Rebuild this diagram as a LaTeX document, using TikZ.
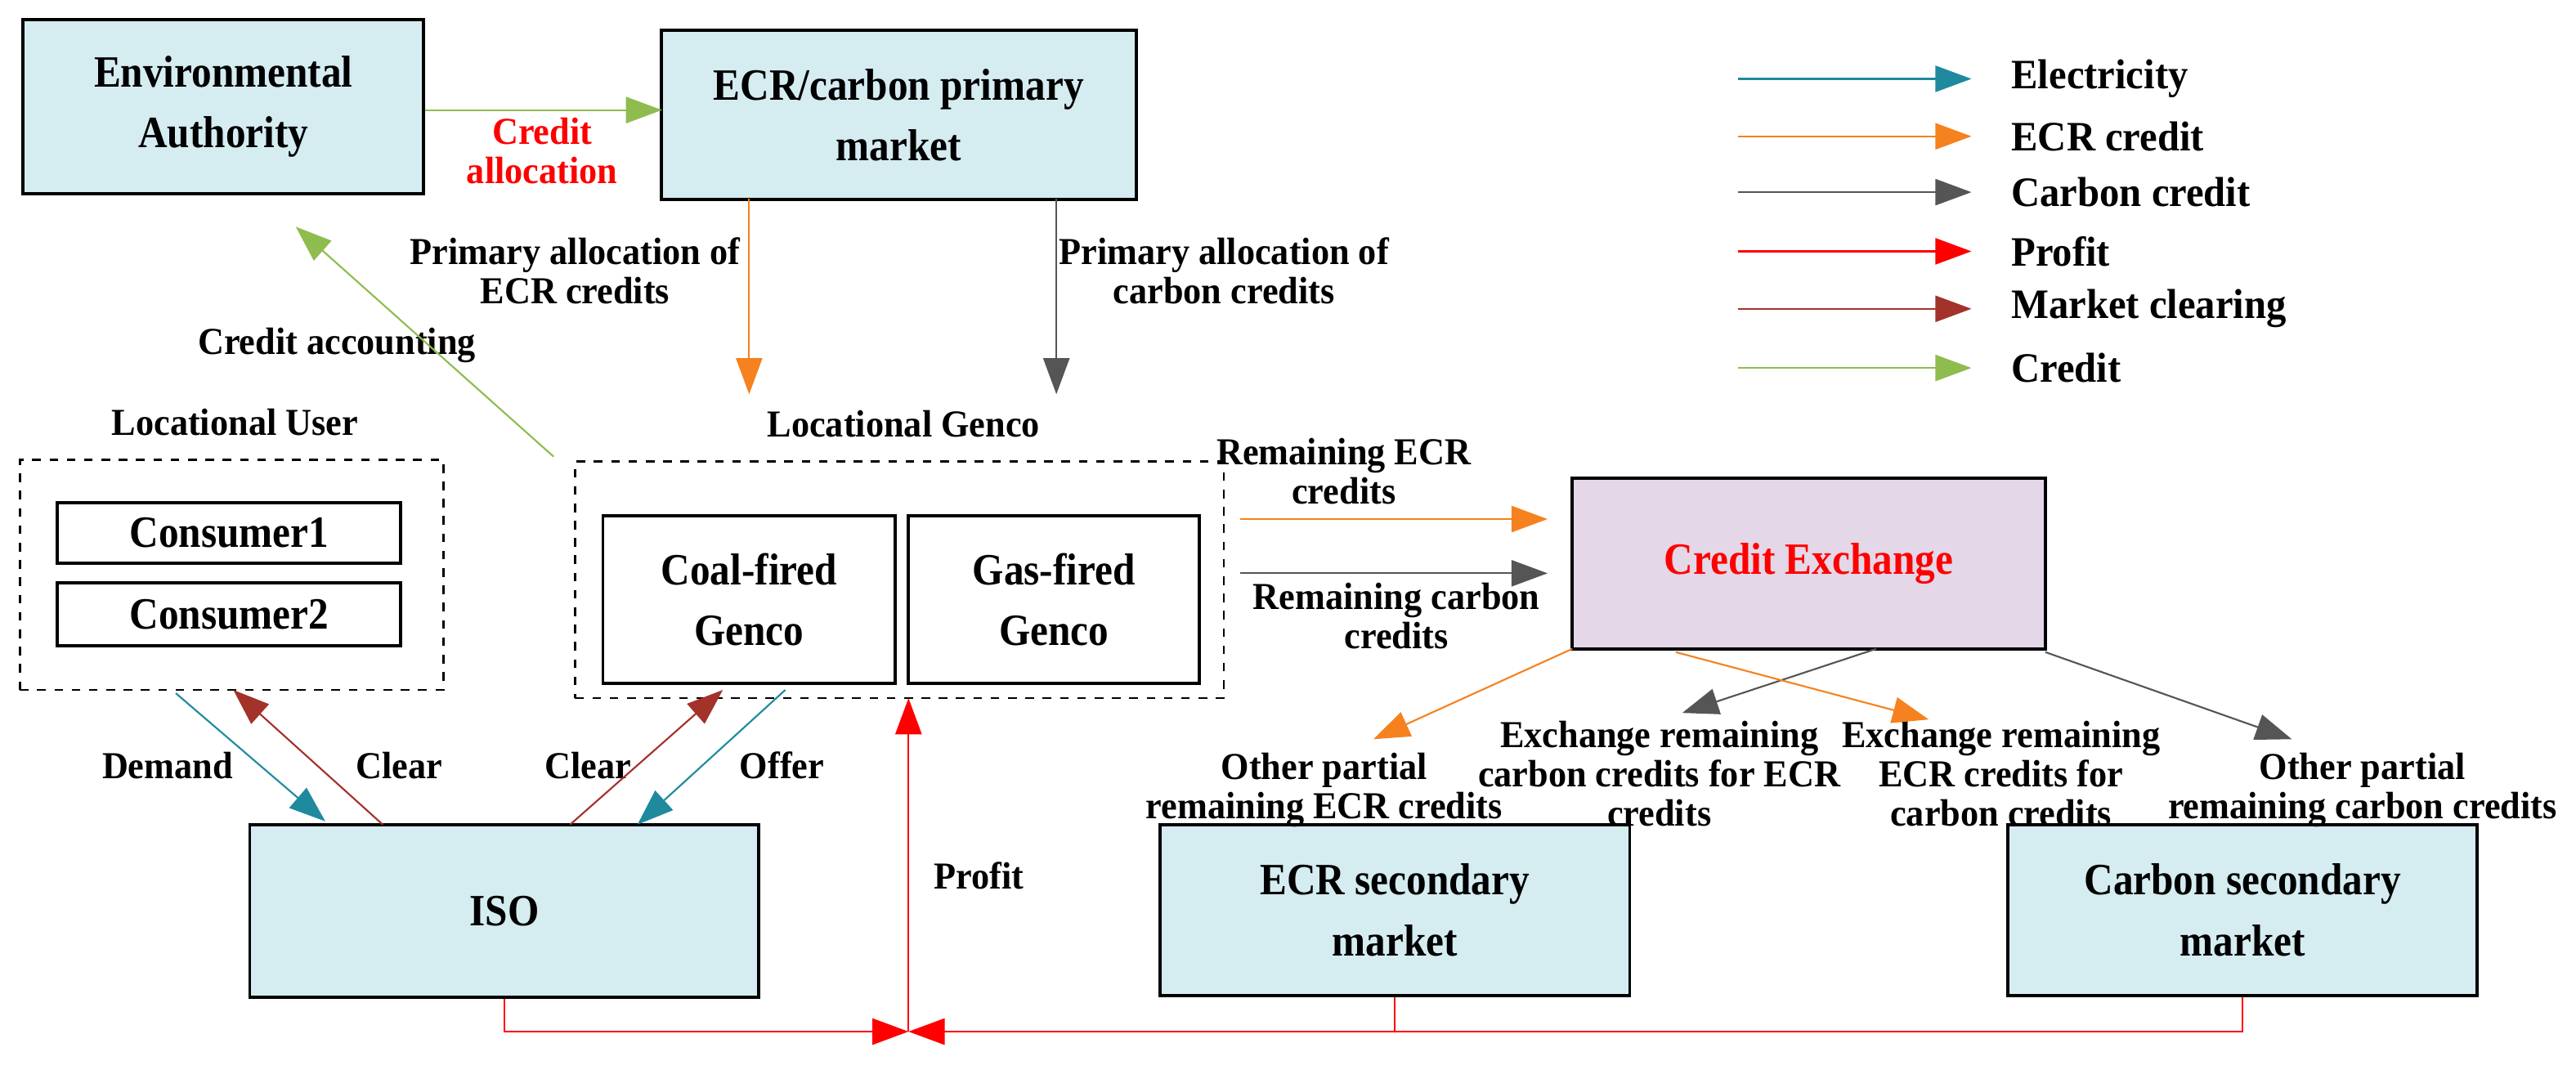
\documentclass[tikz,border=0pt]{standalone}
\usepackage{fontspec}
\setmainfont{Liberation Serif}
\newfontfamily\boxfont{Liberation Serif}[FakeStretch=0.9]
\newfontfamily\lblfont{Liberation Serif}[FakeStretch=0.95]
\usetikzlibrary{arrows.meta}
\definecolor{boxfill}{HTML}{D5ECF1}
\definecolor{lav}{HTML}{E3D7E8}
\definecolor{teal2}{HTML}{1F8A9E}
\definecolor{org}{HTML}{F5821F}
\definecolor{gry}{HTML}{555555}
\definecolor{dred}{HTML}{A3322A}
\definecolor{grn}{HTML}{8FBC4F}
\tikzset{
 box/.style={draw,line width=1.1pt,fill=boxfill,align=center,font=\boxfont\bfseries\fontsize{15.5}{18}\selectfont,inner sep=0pt},
 wbox/.style={draw,line width=1.1pt,fill=white,align=center,font=\boxfont\bfseries\fontsize{15.5}{18}\selectfont,inner sep=0pt},
 dbox/.style={draw,thick,dashed,inner sep=0pt},
 lbl/.style={align=center,font=\lblfont\bfseries\fontsize{13.2}{13.5}\selectfont,inner sep=0pt},
 arr/.style={-{Triangle[length=0.44cm,width=0.32cm]},line width=0.6pt},
}
\begin{document}
\begin{tikzpicture}[x=0.02cm,y=-0.02cm]
\useasboundingbox (0,0) rectangle (1568,651);
% boxes
\node[box,minimum width=4.88cm,minimum height=2.12cm] (ea) at (136,65) {Environmental\\[3pt]Authority};
\node[box,minimum width=5.78cm,minimum height=2.06cm] (pm) at (547,70) {ECR/carbon primary\\[3pt]market};
\node[dbox,minimum width=5.16cm,minimum height=2.8cm] (lu) at (141,350) {};
\node[wbox,minimum width=4.18cm,minimum height=0.74cm] (c1) at (139.5,324.5) {Consumer1};
\node[wbox,minimum width=4.18cm,minimum height=0.76cm] (c2) at (139.5,374) {Consumer2};
\node[dbox,minimum width=7.9cm,minimum height=2.88cm] (lg) at (547.5,353) {};
\node[wbox,minimum width=3.56cm,minimum height=2.04cm] (coal) at (456,365) {Coal-fired\\[3pt]Genco};
\node[wbox,minimum width=3.54cm,minimum height=2.04cm] (gas) at (641.5,365) {Gas-fired\\[3pt]Genco};
\node[box,fill=lav,text=red,minimum width=5.76cm,minimum height=2.08cm] (ce) at (1101,343) {Credit Exchange};
\node[box,minimum width=6.2cm,minimum height=2.1cm] (iso) at (307,554.5) {ISO};
\node[box,minimum width=5.72cm,minimum height=2.08cm] (esm) at (849,554) {ECR secondary\\[3pt]market};
\node[box,minimum width=5.72cm,minimum height=2.08cm] (csm) at (1365,554) {Carbon secondary\\[3pt]market};
% labels
\node[lbl] at (143,257) {Locational User};
\node[lbl] at (550,258) {Locational Genco};
\node[lbl,text=red] at (330,92) {Credit\\allocation};
\node[lbl] at (350,165) {Primary allocation of\\ECR credits};
\node[lbl] at (745,165) {Primary allocation of\\carbon credits};
\node[lbl] at (205,210) {Credit accounting};
\node[lbl] at (818,287) {Remaining ECR\\credits};
\node[lbl] at (850,375) {Remaining carbon\\credits};
\node[lbl] at (102,466) {Demand};
\node[lbl] at (243,466) {Clear};
\node[lbl] at (358,466) {Clear};
\node[lbl] at (476,466) {Offer};
\node[lbl] at (596,533) {Profit};
\node[lbl] at (806,481) {Other partial\\remaining ECR credits};
\node[lbl] at (1010,471) {Exchange remaining\\carbon credits for ECR\\credits};
\node[lbl] at (1218,471) {Exchange remaining\\ECR credits for\\carbon credits};
\node[lbl] at (1438,481) {Other partial\\remaining carbon credits};
% coordinates
\coordinate (a1) at (403,67);
\coordinate (o1s) at (456,121); \coordinate (o1e) at (456,240);
\coordinate (g1s) at (643,121); \coordinate (g1e) at (643,240);
\coordinate (cas) at (337,278); \coordinate (cae) at (180,138);
\coordinate (r1s) at (755,316); \coordinate (r1e) at (942,316);
\coordinate (r2s) at (755,349); \coordinate (r2e) at (942,349);
\coordinate (d1s) at (107,422); \coordinate (d1e) at (198,500);
\coordinate (k1s) at (233,502); \coordinate (k1e) at (142,420);
\coordinate (k2s) at (347,502); \coordinate (k2e) at (440,420);
\coordinate (f1s) at (478,420); \coordinate (f1e) at (388,502);
\coordinate (pj) at (553,628); \coordinate (pe) at (553,425);
\coordinate (e1s) at (957,395); \coordinate (e1e) at (836,450);
\coordinate (e2s) at (1142,395); \coordinate (e2e) at (1024,434);
\coordinate (e3s) at (1020,397); \coordinate (e3e) at (1174,438);
\coordinate (e4s) at (1245,397); \coordinate (e4e) at (1395,450);
% connectors
\draw[arr,grn] (ea.east|-a1) -- (a1);
\draw[arr,org] (o1s) -- (o1e);
\draw[arr,gry] (g1s) -- (g1e);
\draw[arr,grn] (cas) -- (cae);
\draw[arr,org] (r1s) -- (r1e);
\draw[arr,gry] (r2s) -- (r2e);
\draw[arr,teal2] (d1s) -- (d1e);
\draw[arr,dred] (k1s) -- (k1e);
\draw[arr,dred] (k2s) -- (k2e);
\draw[arr,teal2] (f1s) -- (f1e);
\draw[arr,red] (pj) -- (pe);
\draw[arr,red] (iso.south) |- (pj);
\draw[arr,red] (csm.south) |- (pj);
\draw[red,line width=0.6pt] (esm.south) -- (esm.south|-pj);
\draw[arr,org] (e1s) -- (e1e);
\draw[arr,gry] (e2s) -- (e2e);
\draw[arr,org] (e3s) -- (e3e);
\draw[arr,gry] (e4s) -- (e4e);
% legend
\foreach \y/\c/\t [count=\i] in {48/teal2/Electricity,83/org/ECR credit,117/gry/Carbon credit,153/red/Profit,188/dred/Market clearing,224/grn/Credit}{
 \coordinate (ls\i) at (1058,\y); \coordinate (le\i) at (1200,\y);
 \draw[arr,\c] (ls\i) -- (le\i);
 \node[lbl,anchor=west,font=\lblfont\bfseries\fontsize{14.5}{15}\selectfont] (lt\i) at (1224,\y) {\t};
}
\end{tikzpicture}
\end{document}
